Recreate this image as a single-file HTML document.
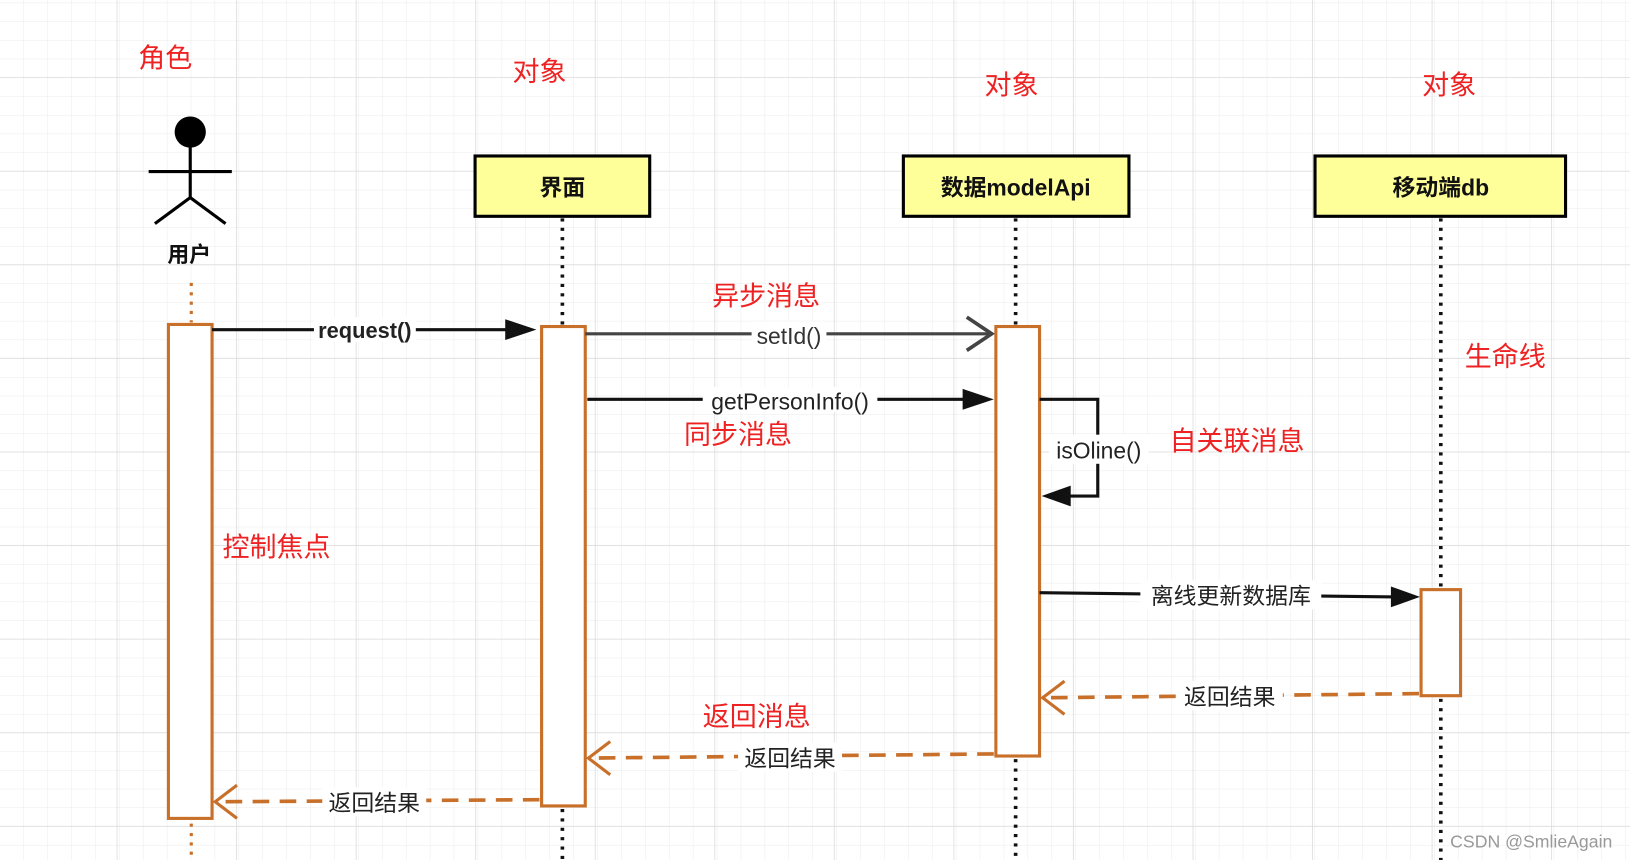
<!DOCTYPE html>
<html><head><meta charset="utf-8"><style>
html,body{margin:0;padding:0;background:#fff;}
svg{display:block}
text{font-family:"Liberation Sans","Noto Sans CJK SC",sans-serif;}
</style></head><body>
<svg width="1630" height="860" viewBox="0 0 1568 827" preserveAspectRatio="none" xmlns="http://www.w3.org/2000/svg">
<defs>
<pattern id="minor" x="0" y="3" width="23" height="18" patternUnits="userSpaceOnUse">
<path d="M23 0V18M0 18H23" stroke="#ebebeb" stroke-width="1" fill="none"/>
</pattern>
<pattern id="major" x="-2" y="-15" width="115" height="90" patternUnits="userSpaceOnUse">
<path d="M115 0V90M0 90H115" stroke="#dadada" stroke-width="1.5" fill="none"/>
</pattern>
</defs>
<rect width="1568" height="827" fill="#fff"/>
<rect width="1568" height="827" fill="url(#minor)"/>
<rect width="1568" height="827" fill="url(#major)"/>

<g fill="#ee2222" font-size="26">
<text x="133" y="65">角色</text>
<text x="493" y="78">对象</text>
<text x="947" y="91">对象</text>
<text x="1368" y="91">对象</text>
<text x="1409" y="352">生命线</text>
<text x="685" y="294">异步消息</text>
<text x="658" y="427">同步消息</text>
<text x="1125" y="433">自关联消息</text>
<text x="214" y="535">控制焦点</text>
<text x="676" y="698">返回消息</text>
</g>

<circle cx="183" cy="127" r="15" fill="#000"/>
<g stroke="#000" stroke-width="3" fill="none">
<path d="M183 140V192M143 165H223M149 215L183 190L217 215"/>
</g>
<text x="182" y="252" font-size="21" font-weight="bold" text-anchor="middle" fill="#111">用户</text>

<g stroke="#c8702a" stroke-width="3" stroke-dasharray="3 6">
<path d="M184 272V310M184 792V827"/>
</g>
<g stroke="#111" stroke-width="3.5" stroke-dasharray="3 6">
<path d="M541 210V312M541 778V827M977 210V312M977 730V827M1386 210V565M1386 672V827"/>
</g>

<g fill="#ffff99" stroke="#000" stroke-width="3">
<rect x="457" y="150" width="168" height="58"/>
<rect x="869" y="150" width="217" height="58"/>
<rect x="1265" y="150" width="241" height="58"/>
</g>
<g font-size="22" font-weight="bold" text-anchor="middle" fill="#111">
<text x="541" y="188">界面</text>
<text x="977" y="188">数据modelApi</text>
<text x="1386" y="188">移动端db</text>
</g>

<g fill="#fff" stroke="#c8702a" stroke-width="3">
<rect x="162" y="312" width="42" height="475"/>
<rect x="521" y="314" width="42" height="461"/>
<rect x="958" y="314" width="42" height="413"/>
<rect x="1367" y="567" width="38" height="102"/>
</g>

<g stroke="#111" stroke-width="3" fill="none">
<path d="M204 317H492"/>
<path d="M565 384H930"/>
<path d="M1000 384H1056V477H1025"/>
<path d="M1000 570L1342 574"/>
</g>
<path d="M563 321H952" stroke="#444" stroke-width="3" fill="none"/>
<path d="M930 305L954 321L930 337" stroke="#444" stroke-width="3.5" fill="none"/>
<g fill="#111">
<path d="M486 307L516 317L486 327Z"/>
<path d="M926 374L956 384L926 394Z"/>
<path d="M1030 467L1002 477L1030 487Z"/>
<path d="M1338 564L1366 574L1338 584Z"/>
</g>

<g stroke="#c8702a" stroke-width="3.5" fill="none" stroke-dasharray="16 10">
<path d="M1365 667L1004 671"/>
<path d="M956 725L567 729"/>
<path d="M519 769L207 771"/>
</g>
<g stroke="#c8702a" stroke-width="3" fill="none">
<path d="M1024 655L1003 671L1024 687"/>
<path d="M587 713L566 729L587 745"/>
<path d="M228 755L207 771L228 787"/>
</g>

<g font-size="22" text-anchor="middle" fill="#222">
<rect x="302" y="305" width="98" height="24" fill="#fff"/>
<text x="351" y="325" font-weight="bold" font-size="21">request()</text>
<rect x="723" y="309" width="72" height="24" fill="#fff"/>
<text x="759" y="331" fill="#333">setId()</text>
<rect x="676" y="372" width="168" height="24" fill="#fff"/>
<text x="760" y="394">getPersonInfo()</text>
<rect x="1009" y="418" width="96" height="28" fill="#fff"/>
<text x="1057" y="441">isOline()</text>
<rect x="1097" y="558" width="174" height="28" fill="#fff"/>
<text x="1184" y="581">离线更新数据库</text>
<rect x="1132" y="655" width="102" height="28" fill="#fff"/>
<text x="1183" y="678">返回结果</text>
<rect x="710" y="714" width="100" height="28" fill="#fff"/>
<text x="760" y="737">返回结果</text>
<rect x="310" y="757" width="100" height="28" fill="#fff"/>
<text x="360" y="780">返回结果</text>
</g>
<text x="1473" y="815" font-size="17" text-anchor="middle" fill="#999">CSDN @SmlieAgain</text>
</svg>
</body></html>
